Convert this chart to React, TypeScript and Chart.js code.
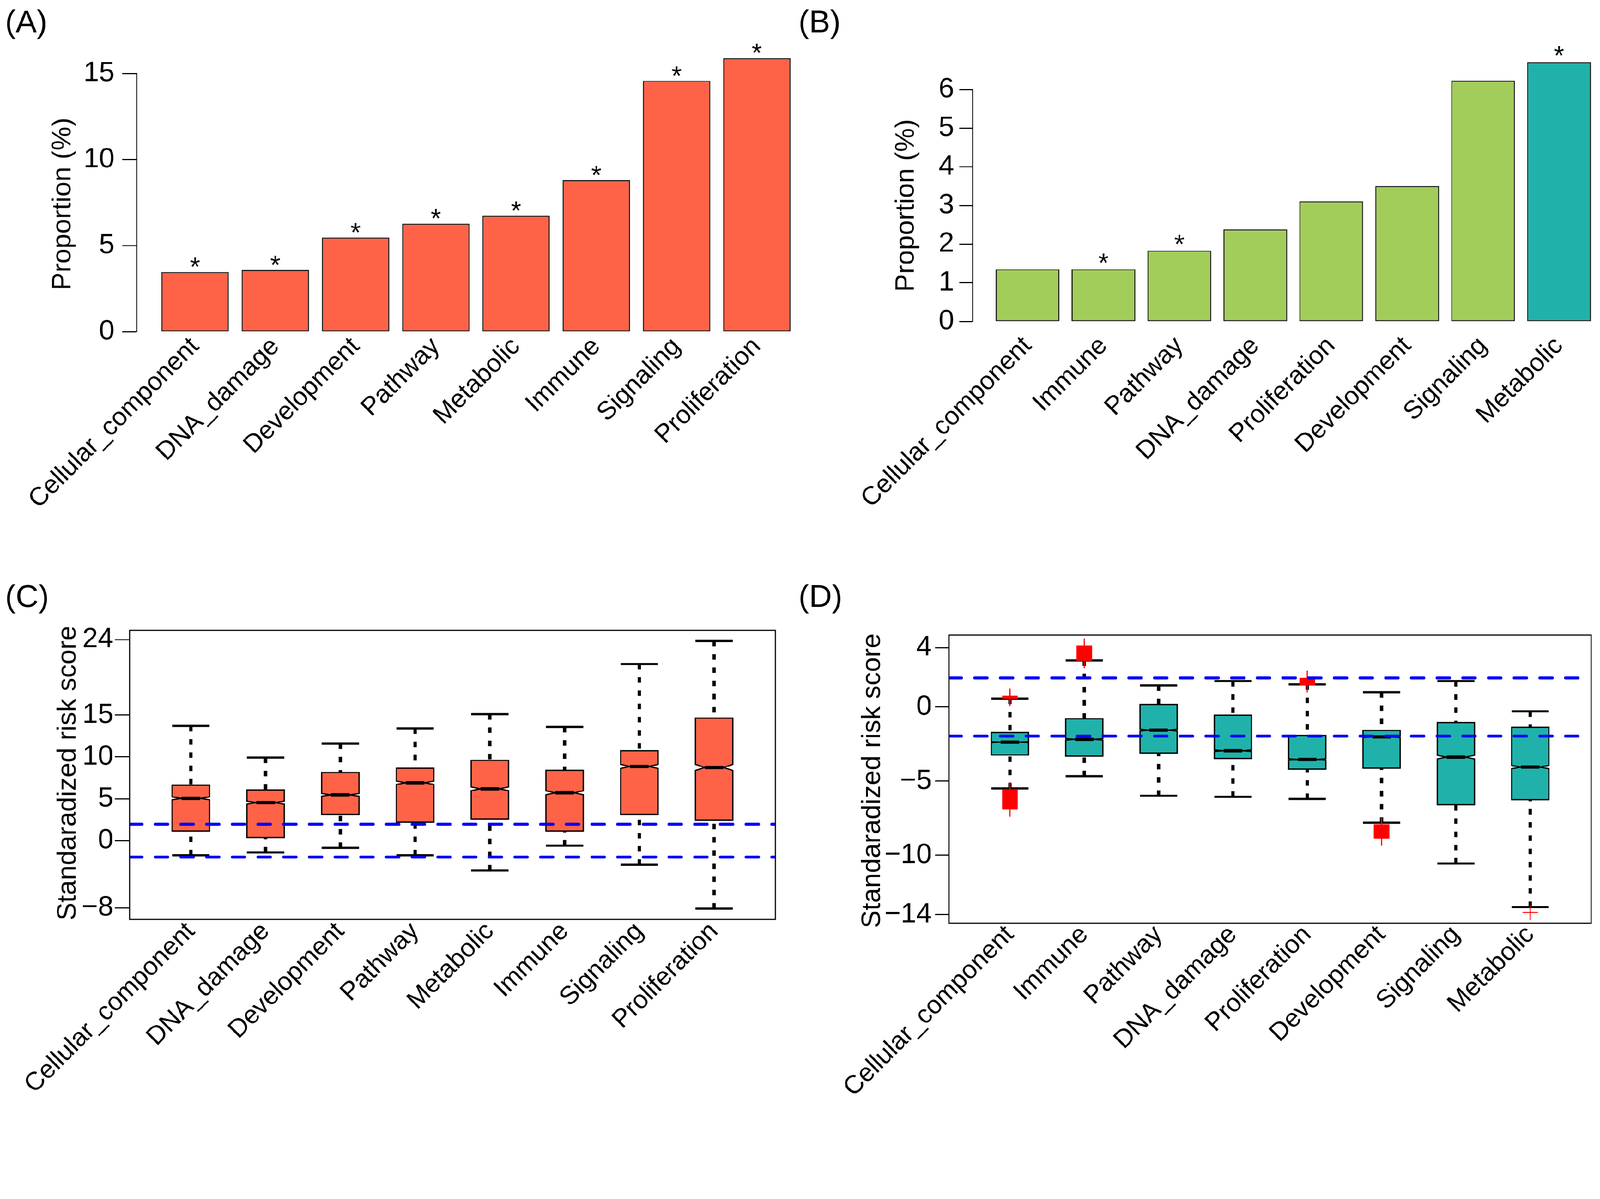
import React, { useEffect, useRef, useState } from "react";
import { Chart, registerables } from "chart.js";

Chart.register(...registerables);

const FONT = "'Liberation Sans', Arial, Helvetica, sans-serif";

// ---------- Panel A ----------
const categoriesA = ["Cellular_component", "DNA_damage", "Development", "Pathway", "Metabolic", "Immune", "Signaling", "Proliferation"];
const proportionA = [3.46, 3.58, 5.47, 6.27, 6.73, 8.8, 14.57, 15.88];
const significantA = [true, true, true, true, true, true, true, true];
const yTicksA = [0, 5, 10, 15];

// ---------- Panel B ----------
const categoriesB = ["Cellular_component", "Immune", "Pathway", "DNA_damage", "Proliferation", "Development", "Signaling", "Metabolic"];
const proportionB = [1.35, 1.35, 1.83, 2.38, 3.11, 3.5, 6.23, 6.71];
const significantB = [false, true, true, false, false, false, false, true];
const highlightB = [false, false, false, false, false, false, false, true];
const yTicksB = [0, 1, 2, 3, 4, 5, 6];

// ---------- Panel C ----------
const categoriesC = ["Cellular_component", "DNA_damage", "Development", "Pathway", "Metabolic", "Immune", "Signaling", "Proliferation"];
const whiskerLowC = [-1.74, -1.4, -0.85, -1.74, -3.56, -0.59, -2.88, -8.1];
const q1C = [1.15, 0.38, 3.14, 2.2, 2.59, 1.15, 3.14, 2.46];
const medianC = [5.05, 4.54, 5.47, 6.91, 6.19, 5.72, 8.86, 8.74];
const q3C = [6.62, 6.06, 8.14, 8.65, 9.58, 8.4, 10.73, 14.63];
const whiskerHighC = [13.7, 9.92, 11.58, 13.4, 15.1, 13.57, 21.08, 23.83];
const notchC = [0.17, 0.18, 0.16, 0.2, 0.22, 0.23, 0.24, 0.36];
const yTicksC = [-8, 0, 5, 10, 15, 24];

// ---------- Panel D ----------
const categoriesD = ["Cellular_component", "Immune", "Pathway", "DNA_damage", "Proliferation", "Development", "Signaling", "Metabolic"];
const whiskerLowD = [-5.49, -4.67, -5.99, -6.06, -6.2, -7.81, -10.56, -13.49];
const q1D = [-3.23, -3.31, -3.11, -3.47, -4.19, -4.12, -6.59, -6.25];
const medianD = [-2.37, -2.18, -1.56, -2.95, -3.54, -2.01, -3.38, -4.05];
const q3D = [-1.72, -0.79, 0.17, -0.55, -1.92, -1.58, -1.05, -1.37];
const whiskerHighD = [0.57, 3.14, 1.46, 1.75, 1.53, 1.0, 1.75, -0.29];
const notchD = [0.03, 0.05, 0.06, 0.05, 0.05, 0.05, 0.12, 0.11];
// dense clusters of outliers (category index, lowest, highest)
const outlierClusterCatD = [0, 0, 1, 4, 5];
const outlierClusterLowD = [0.59, -6.88, 3.14, 1.5, -8.84];
const outlierClusterHighD = [0.72, -5.58, 4.1, 1.93, -7.95];
// isolated outliers
const outlierSingleCatD = [7];
const outlierSingleD = [-13.86];
const yTicksD = [-14, -10, -5, 0, 4];

const thresholds = [-1.96, 1.96];

// ---------- helpers ----------
type Area = { l: number; t: number; r: number; b: number };
type Frame = { left: number; top: number; width: number; height: number; area: Area };

const fmtTick = (v: number) => (v < 0 ? "\u2212" + Math.abs(v) : String(v));

function yScale(min: number, max: number, ticksArr: number[], frame: Frame, padding: number, tickLength: number, border: boolean) {
  return {
    type: "linear",
    position: "left",
    min,
    max,
    afterBuildTicks: (s: any) => {
      s.ticks = ticksArr.map((v) => ({ value: v }));
    },
    afterFit: (s: any) => {
      s.width = frame.area.l;
      s.paddingTop = 0;
      s.paddingBottom = 0;
      s.paddingLeft = 0;
      s.paddingRight = 0;
    },
    grid: { display: true, drawOnChartArea: false, drawTicks: true, tickLength, tickWidth: 3, tickColor: "#000", color: "#000" },
    border: { display: border, color: "#000", width: 3 },
    ticks: {
      autoSkip: false,
      padding,
      color: "#000",
      font: { family: FONT, size: 76 },
      callback: (v: number) => fmtTick(v),
    },
  };
}

function xScale(min: number, max: number, labels: string[], frame: Frame, padding: number) {
  return {
    type: "linear",
    position: "bottom",
    min,
    max,
    offset: false,
    afterBuildTicks: (s: any) => {
      s.ticks = labels.map((_, i) => ({ value: i }));
    },
    afterFit: (s: any) => {
      s.height = frame.height - frame.area.b;
      s.paddingTop = 0;
      s.paddingBottom = 0;
      s.paddingLeft = 0;
      s.paddingRight = 0;
    },
    grid: { display: false, drawTicks: false, drawOnChartArea: false },
    border: { display: false },
    ticks: {
      autoSkip: false,
      minRotation: 45,
      maxRotation: 45,
      padding,
      color: "#000",
      font: { family: FONT, size: 70 },
      callback: (v: number) => labels[v] ?? "",
    },
  };
}

type Decor = {
  letter: string;
  letterX: number;
  letterY: number;
  title: string;
  titleX: number;
  titleY: number;
  frameBox?: boolean;
  stars?: { values: number[]; flags: boolean[]; gap: number };
  boxes?: { low: number[]; q1: number[]; med: number[]; q3: number[]; high: number[]; notch: number[]; fill: string };
};

function decorPlugin(d: Decor) {
  return {
    id: "decor",
    beforeDatasetsDraw(chart: any) {
      if (!d.boxes) return;
      const { ctx } = chart;
      const xs = chart.scales.x;
      const ys = chart.scales.y;
      const b = d.boxes;
      b.q1.forEach((_, i) => {
        const x = xs.getPixelForValue(i);
        const hw = xs.getPixelForValue(i + 0.25) - x;
        const yLow = ys.getPixelForValue(b.low[i]);
        const yQ1 = ys.getPixelForValue(b.q1[i]);
        const yMed = ys.getPixelForValue(b.med[i]);
        const yQ3 = ys.getPixelForValue(b.q3[i]);
        const yHigh = ys.getPixelForValue(b.high[i]);
        const nLo = ys.getPixelForValue(b.med[i] - b.notch[i]);
        const nHi = ys.getPixelForValue(b.med[i] + b.notch[i]);
        ctx.save();
        ctx.strokeStyle = "#000";
        // whiskers (dotted), drawn from staple toward box
        ctx.lineWidth = 9;
        ctx.lineCap = "butt";
        ctx.setLineDash([15, 21]);
        ctx.beginPath();
        ctx.moveTo(x, yHigh);
        ctx.lineTo(x, yQ3);
        ctx.stroke();
        ctx.beginPath();
        ctx.moveTo(x, yLow);
        ctx.lineTo(x, yQ1);
        ctx.stroke();
        ctx.setLineDash([]);
        // staples
        ctx.lineWidth = 6;
        ctx.beginPath();
        ctx.moveTo(x - hw, yHigh);
        ctx.lineTo(x + hw, yHigh);
        ctx.moveTo(x - hw, yLow);
        ctx.lineTo(x + hw, yLow);
        ctx.stroke();
        // notched box
        ctx.beginPath();
        ctx.moveTo(x - hw, yQ1);
        ctx.lineTo(x + hw, yQ1);
        ctx.lineTo(x + hw, nLo);
        ctx.lineTo(x + hw / 2, yMed);
        ctx.lineTo(x + hw, nHi);
        ctx.lineTo(x + hw, yQ3);
        ctx.lineTo(x - hw, yQ3);
        ctx.lineTo(x - hw, nHi);
        ctx.lineTo(x - hw / 2, yMed);
        ctx.lineTo(x - hw, nLo);
        ctx.closePath();
        ctx.fillStyle = b.fill;
        ctx.fill();
        ctx.lineWidth = 3.5;
        ctx.lineJoin = "miter";
        ctx.stroke();
        // median
        ctx.lineWidth = 9;
        ctx.beginPath();
        ctx.moveTo(x - hw / 2, yMed);
        ctx.lineTo(x + hw / 2, yMed);
        ctx.stroke();
        ctx.restore();
      });
    },
    afterDatasetsDraw(chart: any) {
      if (!d.stars) return;
      const { ctx } = chart;
      const xs = chart.scales.x;
      const ys = chart.scales.y;
      const size = 72;
      ctx.save();
      ctx.fillStyle = "#000";
      ctx.font = `${size}px ${FONT}`;
      ctx.textAlign = "center";
      ctx.textBaseline = "alphabetic";
      d.stars.values.forEach((v, i) => {
        if (!d.stars!.flags[i]) return;
        const x = xs.getPixelForValue(i);
        const y = ys.getPixelForValue(v) - d.stars!.gap + 0.58 * size;
        ctx.fillText("*", x, y);
      });
      ctx.restore();
    },
    afterDraw(chart: any) {
      const { ctx, chartArea } = chart;
      ctx.save();
      if (d.frameBox) {
        ctx.strokeStyle = "#000";
        ctx.lineWidth = 3;
        ctx.strokeRect(chartArea.left, chartArea.top, chartArea.right - chartArea.left, chartArea.bottom - chartArea.top);
      }
      ctx.fillStyle = "#000";
      ctx.textBaseline = "alphabetic";
      ctx.textAlign = "left";
      ctx.font = `86px ${FONT}`;
      ctx.fillText(d.letter, d.letterX, d.letterY);
      ctx.translate(d.titleX, d.titleY);
      ctx.rotate(-Math.PI / 2);
      ctx.textAlign = "center";
      ctx.font = `73px ${FONT}`;
      ctx.fillText(d.title, 0, 0);
      ctx.restore();
    },
  };
}

function baseOptions(frame: Frame) {
  return {
    responsive: false,
    maintainAspectRatio: false,
    animation: false as const,
    devicePixelRatio: 1,
    events: [] as any[],
    layout: { padding: { left: 0, top: frame.area.t, right: frame.width - frame.area.r, bottom: 0 } },
    plugins: { legend: { display: false }, title: { display: false }, tooltip: { enabled: false } },
  };
}

function thresholdDatasets(xmin: number, xmax: number) {
  return thresholds.map((t) => ({
    type: "line",
    data: [
      { x: xmin, y: t },
      { x: xmax, y: t },
    ],
    borderColor: "#0000FF",
    borderWidth: 8,
    borderDash: [34, 36],
    borderCapStyle: "round",
    pointRadius: 0,
    fill: false,
    order: 0,
  }));
}

// ---------- configs ----------
const PAGE_W = 4360;
const PAGE_H = 3070;
const frameA: Frame = { left: 0, top: 0, width: 2240, height: 1535, area: { l: 372, t: 200, r: 2222, b: 904 } };
const frameB: Frame = { left: 2160, top: 0, width: 2200, height: 1535, area: { l: 490, t: 244, r: 2200, b: 876 } };
const frameC: Frame = { left: 0, top: 1535, width: 2180, height: 1535, area: { l: 353, t: 183, r: 2113, b: 971 } };
const frameD: Frame = { left: 2160, top: 1535, width: 2200, height: 1535, area: { l: 426, t: 196, r: 2176, b: 981 } };

function configA(): any {
  return {
    type: "bar",
    data: {
      datasets: [
        {
          data: proportionA.map((v, i) => ({ x: i, y: v })),
          backgroundColor: "#FF6347",
          borderColor: "#1a1a1a",
          borderWidth: 3,
          borderSkipped: false,
          barPercentage: 0.84,
          categoryPercentage: 1,
          clip: false,
        },
      ],
    },
    options: {
      ...baseOptions(frameA),
      scales: {
        x: xScale(-0.73, 7.73, categoriesA, frameA, 0),
        y: yScale(0, 15, yTicksA, frameA, 21, 39, true),
      },
    },
    plugins: [
      decorPlugin({
        letter: "(A)", letterX: 14, letterY: 88,
        title: "Proportion (%)", titleX: 192, titleY: 556,
        stars: { values: proportionA, flags: significantA, gap: 31 },
      }),
    ],
  };
}

function configB(): any {
  return {
    type: "bar",
    data: {
      datasets: [
        {
          data: proportionB.map((v, i) => ({ x: i, y: v })),
          backgroundColor: highlightB.map((h) => (h ? "#20B2AA" : "#A2CD5A")),
          borderColor: "#1a1a1a",
          borderWidth: 3,
          borderSkipped: false,
          barPercentage: 0.84,
          categoryPercentage: 1,
          clip: false,
        },
      ],
    },
    options: {
      ...baseOptions(frameB),
      scales: {
        x: xScale(-0.725, 7.54, categoriesB, frameB, 26),
        y: yScale(0, 6, yTicksB, frameB, 14, 36, true),
      },
    },
    plugins: [
      decorPlugin({
        letter: "(B)", letterX: 16, letterY: 88,
        title: "Proportion (%)", titleX: 330, titleY: 560,
        stars: { values: proportionB, flags: significantB, gap: 35 },
      }),
    ],
  };
}

function configC(): any {
  return {
    type: "scatter",
    data: { datasets: thresholdDatasets(-0.82, 7.82) },
    options: {
      ...baseOptions(frameC),
      scales: {
        x: xScale(-0.82, 7.82, categoriesC, frameC, -8),
        y: yScale(-9.4, 25.1, yTicksC, frameC, 4, 40, false),
      },
    },
    plugins: [
      decorPlugin({
        letter: "(C)", letterX: 14, letterY: 119,
        title: "Standaradized risk score", titleX: 206, titleY: 572,
        frameBox: true,
        boxes: { low: whiskerLowC, q1: q1C, med: medianC, q3: q3C, high: whiskerHighC, notch: notchC, fill: "#FF6347" },
      }),
    ],
  };
}

function configD(): any {
  const crossPoints: { x: number; y: number }[] = [];
  outlierClusterCatD.forEach((c, i) => {
    crossPoints.push({ x: c, y: outlierClusterLowD[i] });
    crossPoints.push({ x: c, y: outlierClusterHighD[i] });
  });
  outlierSingleCatD.forEach((c, i) => crossPoints.push({ x: c, y: outlierSingleD[i] }));
  return {
    type: "scatter",
    data: {
      datasets: [
        ...thresholdDatasets(-0.82, 7.82),
        {
          type: "scatter",
          data: crossPoints,
          pointStyle: "cross",
          pointRadius: 21,
          borderColor: "#FF0000",
          backgroundColor: "#FF0000",
          borderWidth: 3,
          order: 1,
        },
        {
          type: "bar",
          data: outlierClusterCatD.map((c, i) => ({ x: c, y: [outlierClusterLowD[i], outlierClusterHighD[i]] })),
          backgroundColor: "#FF0000",
          borderWidth: 0,
          barThickness: 42,
          grouped: false,
          order: 2,
        },
      ],
    },
    options: {
      ...baseOptions(frameD),
      scales: {
        x: xScale(-0.82, 7.82, categoriesD, frameD, -9),
        y: yScale(-14.58, 4.85, yTicksD, frameD, 9, 38, false),
      },
    },
    plugins: [
      decorPlugin({
        letter: "(D)", letterX: 16, letterY: 119,
        title: "Standaradized risk score", titleX: 238, titleY: 593,
        frameBox: true,
        boxes: { low: whiskerLowD, q1: q1D, med: medianD, q3: q3D, high: whiskerHighD, notch: notchD, fill: "#20B2AA" },
      }),
    ],
  };
}

function Panel({ frame, build }: { frame: Frame; build: () => any }) {
  const ref = useRef<HTMLCanvasElement | null>(null);
  useEffect(() => {
    if (!ref.current) return;
    const chart = new Chart(ref.current, build());
    return () => chart.destroy();
  }, []);
  return (
    <canvas
      ref={ref}
      width={frame.width}
      height={frame.height}
      style={{ position: "absolute", left: frame.left, top: frame.top, width: frame.width, height: frame.height }}
    />
  );
}

function fitScale() {
  if (typeof window === "undefined") return 1;
  const w = document.documentElement.clientWidth || window.innerWidth;
  const h = document.documentElement.clientHeight || window.innerHeight;
  return Math.min(w / PAGE_W, h / PAGE_H);
}

export default function App() {
  const [scale, setScale] = useState(fitScale());
  useEffect(() => {
    document.body.style.margin = "0";
    document.body.style.overflow = "hidden";
    setScale(fitScale());
  }, []);
  return (
    <div
      style={{
        position: "fixed",
        left: 0,
        top: 0,
        width: PAGE_W,
        height: PAGE_H,
        overflow: "hidden",
        background: "#ffffff",
        transform: `scale(${scale})`,
        transformOrigin: "0 0",
      }}
    >
      <Panel frame={frameA} build={configA} />
      <Panel frame={frameB} build={configB} />
      <Panel frame={frameC} build={configC} />
      <Panel frame={frameD} build={configD} />
    </div>
  );
}
